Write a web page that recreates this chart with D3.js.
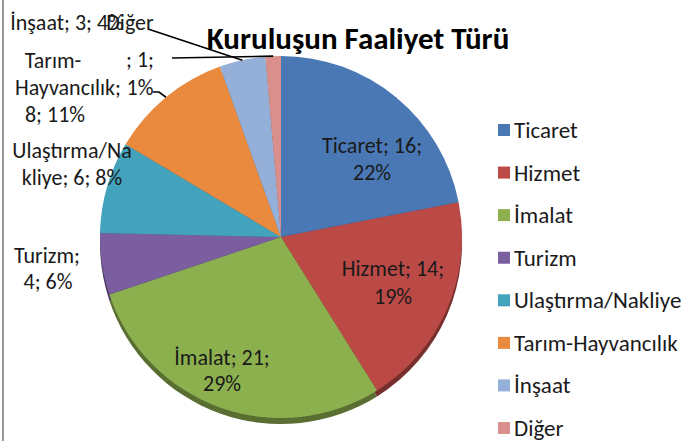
<!DOCTYPE html>
<html>
<head>
<meta charset="utf-8">
<script src="https://cdn.jsdelivr.net/npm/d3@7"></script>
<style>
  body { margin: 0; background: #fff; }
  text { font-family: Carlito, Calibri, Lato, sans-serif; fill: #1a1a1a; }
</style>
</head>
<body>
<div id="chart"></div>
<script>
// veriler
const categories = ["Ticaret", "Hizmet", "İmalat", "Turizm", "Ulaştırma/Nakliye", "Tarım-Hayvancılık", "İnşaat", "Diğer"];
const counts = [16, 14, 21, 4, 6, 8, 3, 1];
const percents = ["22%", "19%", "29%", "6%", "8%", "11%", "4%", "1%"];
const colors = ["#4a78b5", "#bb4a47", "#8db04f", "#7a5ea0", "#43a2bc", "#e98a3f", "#94afd8", "#d98f8c"];

const W = 686, H = 441;
const cx = 281, cy = 237, R = 181;

// etiket satirlari (Excel'in kirdigi gibi)
const labelLines = [
  [["Ticaret; 16;", 372, 145], ["22%", 372, 172]],
  [["Hizmet; 14;", 393, 268], ["19%", 393, 296]],
  [["İmalat; 21;", 222, 357], ["29%", 222, 383]],
  [["Turizm;", 47, 255], ["4; 6%", 48, 281]],
  [["Ulaştırma/Na", 72, 150], ["kliye; 6; 8%", 72, 177]],
  [["Tarım-", 53, 60], ["Hayvancılık;", 68, 87], ["8; 11%", 55, 114]],
  [["İnşaat; 3; 4%", 67, 22]],
  [["Diğer", 130, 22], ["; 1;", 140, 59], ["1%", 140, 87]]
];
// leader cizgilerinin basladigi yer
const leaderStart = { 5: [[153, 92], [159, 92]], 6: [[148, 29]], 7: [[172, 58]] };

const svg = d3.select("#chart").append("svg")
  .attr("width", W).attr("height", H);

svg.append("line")
  .attr("x1", 3).attr("x2", 3).attr("y1", 0).attr("y2", H)
  .attr("stroke", "#9a9a9a").attr("stroke-width", 2);

const data = categories.map((c, i) => ({ name: c, value: counts[i], color: colors[i], i }));
const pie = d3.pie().sort(null).value(d => d.value);
const arcs = pie(data);
const arc = d3.arc().innerRadius(0).outerRadius(R);

// 3D gibi alt kenar
svg.append("g")
  .attr("transform", `translate(${cx},${cy + 6})`)
  .selectAll("path")
  .data(arcs)
  .join("path")
  .attr("d", arc)
  .attr("fill", d => d3.color(d.data.color).darker(1.3));

svg.append("g")
  .attr("transform", `translate(${cx},${cy})`)
  .selectAll("path")
  .data(arcs)
  .join("path")
  .attr("d", arc)
  .attr("fill", d => d.data.color);

// baslik
svg.append("text")
  .attr("x", 358).attr("y", 49)
  .attr("text-anchor", "middle")
  .style("font-size", "31px").style("font-weight", "bold")
  .style("fill", "#000")
  .text("Kuruluşun Faaliyet Türü");

// leader cizgileri
Object.keys(leaderStart).forEach(k => {
  const a = arcs[+k];
  const mid = (a.startAngle + a.endAngle) / 2;
  const end = [cx + R * Math.sin(mid), cy - R * Math.cos(mid)];
  const pts = leaderStart[k].concat([end]);
  svg.append("path")
    .attr("d", d3.line()(pts))
    .attr("fill", "none")
    .attr("stroke", "#000")
    .attr("stroke-width", 1.6);
});

// etiketler
labelLines.forEach((lines, i) => {
  lines.forEach(([t, x, y]) => {
    svg.append("text")
      .attr("x", x).attr("y", y)
      .attr("text-anchor", "middle")
      .attr("dominant-baseline", "central")
      .style("font-size", "22px")
      .text(t);
  });
});

// lejant
const legend = svg.append("g");
const ly = d3.scalePoint().domain(categories).range([130, 428]);
categories.forEach((c, i) => {
  legend.append("rect")
    .attr("x", 498).attr("y", ly(c) - 6)
    .attr("width", 12).attr("height", 12)
    .attr("fill", colors[i]);
  legend.append("text")
    .attr("x", 514).attr("y", ly(c))
    .attr("dominant-baseline", "central")
    .style("font-size", "23px")
    .text(c);
});
</script>
</body>
</html>
